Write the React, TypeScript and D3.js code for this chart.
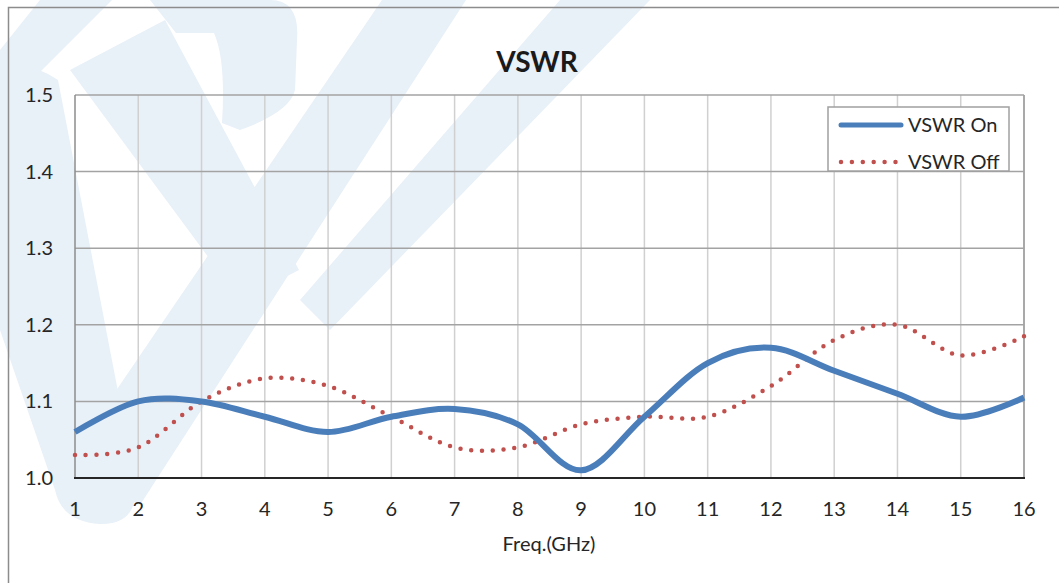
import * as d3 from 'd3';
import React, { useRef, useEffect } from 'react';

// frequency points (GHz) and the two measured VSWR series
const freqGHz = [1, 2, 3, 4, 5, 6, 7, 8, 9, 10, 11, 12, 13, 14, 15, 16];
const vswrOn = [1.06, 1.10, 1.10, 1.08, 1.06, 1.08, 1.09, 1.07, 1.01, 1.08, 1.15, 1.17, 1.14, 1.11, 1.08, 1.105];
const vswrOff = [1.03, 1.04, 1.10, 1.13, 1.12, 1.08, 1.04, 1.04, 1.07, 1.08, 1.08, 1.12, 1.18, 1.20, 1.16, 1.185];
const yTicks = [1.0, 1.1, 1.2, 1.3, 1.4, 1.5];
const seriesNames = ['VSWR On', 'VSWR Off'];

// faint logo watermark behind the chart
const watermark = [
    'M40,0 L112,0 L0,112 L0,50 Z',
    'M0,70 Q30,60 58,80 L135,480 Q140,525 100,524 Q62,522 55,490 L0,330 Z',
    'M382,0 L466,0 L140,505 L62,470 Z',
    'M560,0 L650,0 L330,330 L300,300 Z',
    'M70,70 L165,20 L299,270 L240,300 Z',
    'M150,0 L270,0 Q300,0 297,40 L295,90 Q290,112 240,130 L222,123 Q226,60 214,33 L176,33 Z',
];

const App = () => {
    const svgRef = useRef(null);

    useEffect(() => {
        const width = 1059;
        const height = 583;
        const font = 'Lato, "Open Sans", sans-serif';

        const svg = d3.select(svgRef.current);
        svg.selectAll('*').remove();
        svg.attr('width', width).attr('height', height);

        svg.append('rect').attr('width', width).attr('height', height).attr('fill', '#fff');

        svg.append('g')
            .selectAll('path')
            .data(watermark)
            .enter().append('path')
            .attr('d', (d) => d)
            .attr('fill', '#e8f0f8');

        // outer chart frame (runs off the right and bottom edges)
        svg.append('rect')
            .attr('x', 8.5).attr('y', 7.5)
            .attr('width', 1080).attr('height', 600)
            .attr('fill', 'none')
            .attr('stroke', '#8c8c8c')
            .attr('stroke-width', 1.5);

        const x = d3.scaleLinear().domain([1, 16]).range([75, 1024]);
        const y = d3.scaleLinear().domain([1.0, 1.5]).range([478, 95]);

        // vertical grid
        svg.append('g')
            .selectAll('line')
            .data(freqGHz.slice(1))
            .enter().append('line')
            .attr('x1', (d) => x(d)).attr('x2', (d) => x(d))
            .attr('y1', y(1.5)).attr('y2', y(1.0))
            .attr('stroke', (d) => d === 16 ? '#8c8c8c' : '#d0d0d0')
            .attr('stroke-width', 1.5);

        // horizontal grid
        svg.append('g')
            .selectAll('line')
            .data(yTicks.slice(1))
            .enter().append('line')
            .attr('x1', x(1)).attr('x2', x(16))
            .attr('y1', (d) => y(d)).attr('y2', (d) => y(d))
            .attr('stroke', '#a3a3a3')
            .attr('stroke-width', 1.5);

        // y axis line
        svg.append('line')
            .attr('x1', x(1)).attr('x2', x(1))
            .attr('y1', y(1.5)).attr('y2', y(1.0))
            .attr('stroke', '#8c8c8c').attr('stroke-width', 1.5);

        // x axis line
        svg.append('line')
            .attr('x1', x(1) - 1).attr('x2', x(16) + 1)
            .attr('y1', y(1.0)).attr('y2', y(1.0))
            .attr('stroke', '#262626').attr('stroke-width', 2);

        // y tick labels
        svg.append('g')
            .selectAll('text')
            .data(yTicks)
            .enter().append('text')
            .attr('x', 53)
            .attr('y', (d) => y(d) + 7)
            .attr('text-anchor', 'end')
            .attr('font-family', font)
            .attr('font-size', 20)
            .attr('fill', '#262626')
            .text((d) => d3.format('.1f')(d));

        // x tick labels
        svg.append('g')
            .selectAll('text')
            .data(freqGHz)
            .enter().append('text')
            .attr('x', (d) => x(d))
            .attr('y', 516)
            .attr('text-anchor', 'middle')
            .attr('font-family', font)
            .attr('font-size', 20)
            .attr('fill', '#262626')
            .text((d) => d);

        svg.append('text')
            .attr('x', 549).attr('y', 551)
            .attr('text-anchor', 'middle')
            .attr('font-family', font)
            .attr('font-size', 20)
            .attr('fill', '#262626')
            .text('Freq.(GHz)');

        svg.append('text')
            .attr('x', 537).attr('y', 72)
            .attr('text-anchor', 'middle')
            .attr('font-family', font)
            .attr('font-weight', 'bold')
            .attr('font-size', 28)
            .attr('fill', '#1a1a1a')
            .text('VSWR');

        const line = d3.line()
            .x((d) => x(d[0]))
            .y((d) => y(d[1]))
            .curve(d3.curveCatmullRom.alpha(0));

        svg.append('path')
            .datum(freqGHz.map((f, i) => [f, vswrOff[i]]))
            .attr('d', line)
            .attr('fill', 'none')
            .attr('stroke', '#c0504d')
            .attr('stroke-width', 4.5)
            .attr('stroke-linecap', 'round')
            .attr('stroke-dasharray', '0 10.8');

        svg.append('path')
            .datum(freqGHz.map((f, i) => [f, vswrOn[i]]))
            .attr('d', line)
            .attr('fill', 'none')
            .attr('stroke', '#4a7ebb')
            .attr('stroke-width', 6)
            .attr('stroke-linejoin', 'round');

        // legend
        const legend = svg.append('g');
        legend.append('rect')
            .attr('x', 828).attr('y', 107)
            .attr('width', 181).attr('height', 64)
            .attr('fill', '#fff')
            .attr('stroke', '#a0a0a0')
            .attr('stroke-width', 1.5);

        const items = legend.selectAll('g.item')
            .data(seriesNames)
            .enter().append('g')
            .attr('class', 'item')
            .attr('transform', (d, i) => `translate(0, ${125 + i * 37})`);

        items.append('line')
            .attr('x1', 841).attr('x2', (d, i) => i === 0 ? 901 : 896)
            .attr('y1', 0).attr('y2', 0)
            .attr('stroke', (d, i) => i === 0 ? '#4a7ebb' : '#c0504d')
            .attr('stroke-width', (d, i) => i === 0 ? 5 : 4.5)
            .attr('stroke-linecap', 'round')
            .attr('stroke-dasharray', (d, i) => i === 0 ? null : '0 10.9');

        items.append('text')
            .attr('x', 908)
            .attr('y', 7)
            .attr('font-family', font)
            .attr('font-size', 20)
            .attr('fill', '#262626')
            .text((d) => d);
    }, []);

    return (
        <div style={{ position: 'absolute', left: 0, top: 0 }}>
            <svg ref={svgRef} style={{ display: 'block' }}></svg>
        </div>
    );
};

export default App;
